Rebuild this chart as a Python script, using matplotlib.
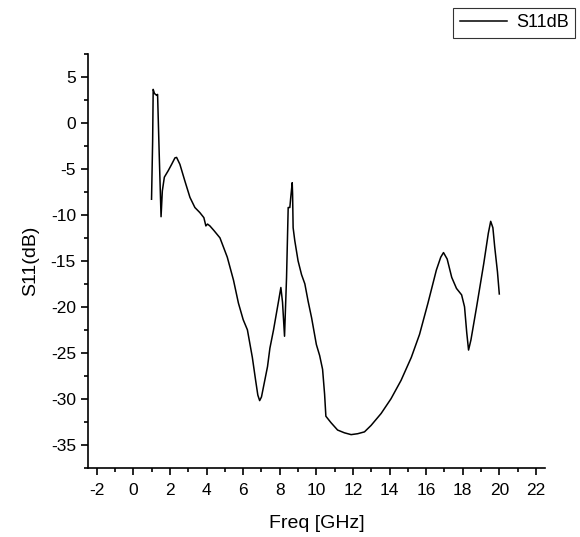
import matplotlib.pyplot as plt
from matplotlib.ticker import MultipleLocator

plt.rcParams['font.family'] = ['Liberation Sans', 'DejaVu Sans']
plt.rcParams['axes.unicode_minus'] = False

# S11 curve
freq = [0.99, 1.05, 1.08, 1.15, 1.27, 1.32, 1.41, 1.51, 1.58, 1.69, 1.90, 2.09,
        2.27, 2.36, 2.54, 2.81, 3.09, 3.36, 3.63, 3.85, 3.96, 4.05, 4.18, 4.40,
        4.73, 5.13, 5.47, 5.74, 6.00, 6.23, 6.50, 6.68, 6.80, 6.90, 7.00, 7.15,
        7.33, 7.46, 7.66, 7.94, 8.06, 8.15, 8.26, 8.37, 8.46, 8.55, 8.60, 8.68,
        8.70, 8.73, 8.82, 9.00, 9.19, 9.37, 9.55, 9.74, 10.00, 10.18, 10.34, 10.45,
        10.52, 10.80, 11.16, 11.53, 11.90, 12.26, 12.63, 12.99, 13.54, 14.08, 14.63,
        15.19, 15.64, 16.10, 16.56, 16.80, 16.95, 17.15, 17.40, 17.66, 17.94, 18.10,
        18.22, 18.32, 18.45, 18.76, 19.15, 19.40, 19.53, 19.65, 19.75, 19.90, 20.00]
s11 = [-8.3, -2.0, 3.65, 3.2, 3.0, 3.1, -3.4, -10.2, -7.4, -5.9, -5.2, -4.5,
       -3.8, -3.75, -4.5, -6.3, -8.1, -9.2, -9.75, -10.3, -11.2, -11.0, -11.2, -11.7,
       -12.5, -14.6, -17.1, -19.6, -21.4, -22.5, -25.5, -28.0, -29.6, -30.2, -29.8, -28.3,
       -26.5, -24.5, -22.5, -19.3, -17.9, -19.5, -23.2, -16.8, -9.2, -9.2, -8.1, -6.5,
       -7.7, -11.4, -12.8, -15.0, -16.5, -17.5, -19.4, -21.2, -24.1, -25.3, -26.8, -29.5,
       -31.9, -32.6, -33.4, -33.7, -33.9, -33.8, -33.6, -32.9, -31.6, -30.0, -28.0,
       -25.5, -23.0, -19.6, -16.0, -14.6, -14.1, -14.8, -16.8, -18.0, -18.7, -20.0,
       -22.8, -24.7, -23.6, -20.0, -15.3, -12.0, -10.7, -11.4, -13.5, -16.2, -18.6]

fig = plt.figure(figsize=(5.8, 5.37), dpi=100)
ax = fig.add_axes([0.1512, 0.129, 0.7885, 0.7705])

ax.plot(freq, s11, color='black', linewidth=1.1, label='S11dB')

ax.set_xlim(-2.5, 22.5)
ax.set_ylim(-37.5, 7.5)
ax.xaxis.set_major_locator(MultipleLocator(2))
ax.xaxis.set_minor_locator(MultipleLocator(1))
ax.yaxis.set_major_locator(MultipleLocator(5))
ax.yaxis.set_minor_locator(MultipleLocator(2.5))

ax.spines['top'].set_visible(False)
ax.spines['right'].set_visible(False)
for s in ['left', 'bottom']:
    ax.spines[s].set_linewidth(1.2)
ax.tick_params(which='major', direction='out', length=5, width=1.2, labelsize=12.5)
ax.tick_params(axis='x', which='major', pad=6)
ax.tick_params(which='minor', direction='out', length=3, width=1.2)

ax.set_xlabel('Freq [GHz]', fontsize=14, labelpad=12)
ax.set_ylabel('S11(dB)', fontsize=14, labelpad=8)

leg = fig.legend(loc='upper right', bbox_to_anchor=(0.991, 0.985), fontsize=13,
                 frameon=True, fancybox=False, handlelength=2.6, borderpad=0.35,
                 handletextpad=0.5, borderaxespad=0)
leg.get_frame().set_edgecolor('black')
leg.get_frame().set_linewidth(0.8)

fig.savefig('out.png', dpi=100)
